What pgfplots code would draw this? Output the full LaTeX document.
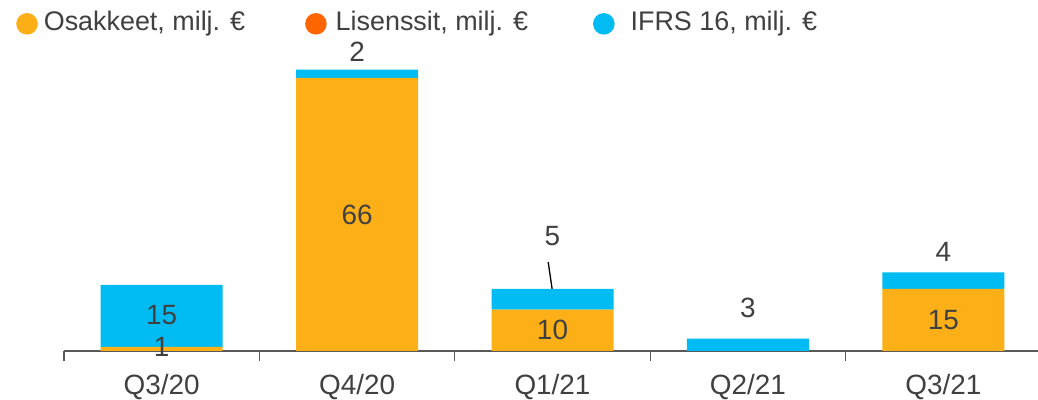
\documentclass[border=0pt]{standalone}
\usepackage{pgfplots}
\pgfplotsset{compat=1.18}
\usepackage{fontspec}
\setmainfont{Liberation Sans}
\definecolor{cOrange}{HTML}{FCAF17}
\definecolor{cDark}{HTML}{FF6600}
\definecolor{cCyan}{HTML}{00BCF2}
\definecolor{cText}{HTML}{404040}
\definecolor{cAxis}{HTML}{595959}
\pgfplotsset{
  circlelegend/.style={legend image code/.code={\fill[##1] (10.5bp,-2bp) circle (10.8bp);}},
  base/.style={
    scale only axis, width=977bp, height=351bp,
    xmin=-0.5, xmax=4.5, ymin=0, ymax=84.8,
  }
}
\begin{document}
\begin{tikzpicture}[font=\fontsize{28}{33}\selectfont, text=cText]
\useasboundingbox (-64bp,-49bp) rectangle (974bp,351bp);
\begin{axis}[base,
  ybar stacked, bar width=122bp,
  hide y axis, axis x line*=bottom,
  axis line style={cAxis, line width=1.3bp},
  xtick={0,1,2,3,4}, xticklabels={Q3/20,Q4/20,Q1/21,Q2/21,Q3/21},
  major tick length=0pt,
  minor xtick={-0.5,0.5,1.5,2.5,3.5,4.5}, minor tick length=10bp,
  tick align=outside, tick style={cAxis, line width=1.3bp},
  xticklabel style={yshift=-20bp, text=cText},
  legend columns=3,
  legend style={at={(axis description cs:-0.0491,0.9345)}, anchor=west,
    draw=none, fill=none, inner sep=0pt, font=\fontsize{27}{32}\selectfont,
    nodes={inner sep=0pt, text=cText},
    /tikz/every odd column/.append style={column sep=6bp}},
  legend cell align=left,
]
\addplot[fill=cOrange, draw=none, circlelegend] coordinates {(0,1) (1,66) (2,10) (3,0) (4,15)};
\addlegendentry{Osakkeet, milj. €\hspace*{60bp}}
\addplot[fill=cDark, draw=none, circlelegend] coordinates {(0,0) (1,0) (2,0) (3,0) (4,0)};
\addlegendentry{\hspace*{3bp}Lisenssit, milj. €\hspace*{65bp}}
\addplot[fill=cCyan, draw=none, circlelegend] coordinates {(0,15) (1,2) (2,5) (3,3) (4,4)};
\addlegendentry{\hspace*{10bp}IFRS 16, milj. €}
\end{axis}
\begin{axis}[base, hide axis]
\addplot[draw=none, nodes near coords, point meta=explicit symbolic,
  every node near coord/.append style={anchor=center, text=cText, inner sep=0pt}]
  coordinates {(0,8.8)[15] (0,0.9)[1] (1,33)[66] (1,72.2)[2] (2,5.1)[10]
               (2,27.8)[5] (3,10.4)[3] (4,7.4)[15] (4,23.9)[4]};
\addplot[black, line width=1.3bp] coordinates {(1.978,21.5) (1.998,15.0)};
\end{axis}
\end{tikzpicture}
\end{document}
